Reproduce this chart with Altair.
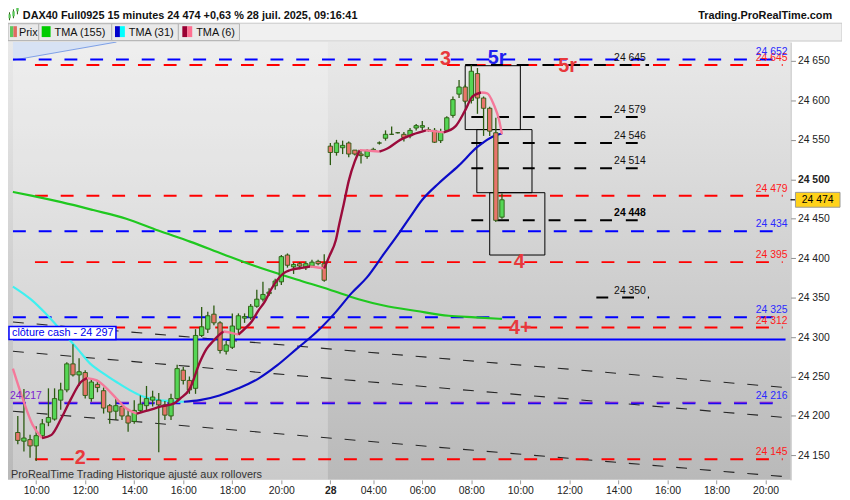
import altair as alt
import pandas as pd

FONT = "Liberation Sans"
W, H = 790, 442
X_MIN, X_MAX = -3.79, 122.27
Y_MIN, Y_MAX = 24119.0, 24674.0

# ---------------- candles (15-min bars; 0 = Fri 10:00, 48 = Mon 02:15) ----------------
bar_index = list(range(-3, 77))
opens = [24179, 24168, 24170, 24162, 24175, 24192, 24196, 24220, 24233, 24266,
         24252, 24255, 24222, 24240, 24232, 24213, 24206, 24212, 24200, 24193,
         24207, 24213, 24220, 24220, 24214, 24200, 24222, 24258, 24245, 24235,
         24302, 24310, 24329, 24318, 24282, 24287, 24310, 24324, 24325, 24339,
         24348, 24355, 24365, 24370, 24404, 24389, 24393, 24388, 24390, 24396,
         24393,
         24542, 24534, 24540, 24546, 24537, 24532, 24529, 24537, 24546, 24552,
         24557, 24559, 24557, 24555, 24565, 24566, 24563, 24562, 24549, 24562,
         24581, 24608, 24617, 24600, 24634, 24603, 24590, 24559, 24452]
highs = [24200, 24234, 24176, 24187, 24196, 24235, 24235, 24242, 24268, 24291,
         24273, 24258, 24248, 24245, 24236, 24215, 24222, 24214, 24208, 24220,
         24226, 24238, 24232, 24229, 24219, 24228, 24265, 24262, 24250, 24310,
         24338, 24332, 24340, 24320, 24295, 24330, 24330, 24330, 24342, 24360,
         24370, 24362, 24374, 24404, 24406, 24394, 24395, 24396, 24398, 24398,
         24405,
         24546, 24550, 24549, 24548, 24537, 24536, 24538, 24540, 24548, 24562,
         24567, 24560, 24560, 24565, 24570, 24574, 24566, 24565, 24564, 24580,
         24605, 24626, 24620, 24645, 24641, 24605, 24592, 24578, 24482]
lows = [24164, 24155, 24147, 24143, 24173, 24187, 24194, 24208, 24230, 24250,
        24238, 24222, 24218, 24230, 24203, 24190, 24195, 24195, 24180, 24190,
        24205, 24207, 24212, 24154, 24195, 24195, 24218, 24240, 24228, 24228,
        24300, 24305, 24315, 24279, 24278, 24285, 24305, 24318, 24322, 24337,
        24345, 24352, 24360, 24366, 24388, 24380, 24386, 24385, 24388, 24391,
        24370,
        24518, 24530, 24532, 24528, 24530, 24520, 24526, 24535, 24544, 24549,
        24556, 24558, 24548, 24552, 24562, 24562, 24560, 24546, 24546, 24560,
        24578, 24603, 24596, 24596, 24583, 24555, 24555, 24446, 24450]
closes = [24169, 24172, 24162, 24175, 24190, 24198, 24222, 24233, 24266, 24252,
          24256, 24226, 24243, 24236, 24210, 24205, 24213, 24200, 24191, 24207,
          24215, 24222, 24224, 24214, 24201, 24222, 24260, 24245, 24233, 24302,
          24313, 24327, 24318, 24283, 24290, 24314, 24327, 24326, 24339, 24348,
          24354, 24357, 24371, 24402, 24391, 24392, 24390, 24393, 24395, 24393,
          24372,
          24534, 24546, 24543, 24532, 24532, 24530, 24536, 24538, 24546, 24557,
          24557, 24559, 24553, 24562, 24568, 24568, 24563, 24547, 24560, 24578,
          24601, 24617, 24599, 24637, 24603, 24590, 24561, 24448, 24474]

# ---------------- moving averages ----------------
tma155_i = [-3.8, -0.6, 4.1, 9.3, 14.7, 19.9, 25.1, 30.5, 35.7, 42.5, 47.9, 52.6, 56.7, 62.1, 67.3, 71.6, 76.0]
tma155_p = [24484, 24479, 24471, 24461, 24450, 24435, 24421, 24405, 24390, 24373, 24360, 24348, 24340, 24333, 24327, 24325, 24323]

tma31_i = [-3.8, -0.9, 1.4, 4.1, 6.75, 8.85, 10.95, 13.1, 15.2, 17.3, 19.9, 22.5, 24.1, 26.7, 29.9, 33.0,
           36.2, 39.3, 42.5, 45.7, 48.8, 51.5, 53.9, 56.7, 59.4, 61.0, 63.0, 65.7, 68.9, 72.0, 74.7, 76.0]
tma31_p = [24364, 24348, 24331, 24308, 24285, 24266, 24254, 24243, 24233, 24225, 24220, 24218.5, 24218, 24220, 24226, 24235,
           24247, 24264, 24285, 24306, 24331, 24356, 24375, 24405, 24434, 24452, 24474, 24495, 24517, 24541, 24555, 24558]

tma6_i = [-3.8, -2.2, -0.6, 0.95, 2.5, 4.1, 5.7, 7.3, 8.3, 9.9, 11.5, 13.1, 14.6, 16.4, 18.3, 20.4, 22.5, 23.5,
          25.1, 26.7, 27.8, 28.9, 29.9, 30.6, 32.0, 33.0, 34.1, 35.2, 36.2, 37.3, 38.3, 39.4, 40.4, 41.5, 43.6,
          44.7, 45.7, 47.0, 47.8, 48.9, 49.5, 50.2, 51.0, 52.0, 52.8, 54.1, 56.0, 57.3, 59.4, 61.5, 63.6, 64.9,
          66.5, 68.4, 69.9, 71.2, 72.6, 73.6, 74.7, 75.5, 76.0]
tma6_p = [24260, 24222, 24189, 24172, 24176, 24197, 24222, 24243, 24248, 24245, 24235, 24222, 24210, 24203, 24207,
          24212, 24216, 24222, 24235, 24268, 24285, 24295, 24303, 24307, 24305, 24303, 24311, 24320, 24333, 24345,
          24360, 24373, 24381, 24385, 24388, 24389.5, 24388.5, 24387, 24402, 24423, 24445, 24469, 24498, 24523,
          24537, 24536.5, 24535, 24539, 24550, 24557, 24562, 24561, 24559.5, 24567, 24586, 24605, 24610, 24609,
          24594, 24576, 24557]

# ---------------- levels ----------------
red_levels = [24645, 24479, 24395, 24312, 24145]
blue_levels = [24652, 24434, 24325, 24216]
purple_level = 24217
cash_close = 24297
RED_FROM = -0.2
LEVEL_TO = 121.8

fib_levels = [24645, 24579, 24546, 24514, 24448, 24350]
fib_from = [70, 71, 71, 71, 71, 91.4]
FIB_TO = 100
FIB_LABEL_AT = 94.3

box_left = [70, 71.9, 74]
box_right = [79, 80.9, 83]
box_top = [24644, 24563, 24483]
box_bottom = [24563, 24483, 24404]

reg_start = [24319, 24282, 24206]
reg_end = [24236, 24198, 24123]

chan_i = [-3.79, 13.1]
chan_p = [24651, 24674]

big_text = ["2", "3", "4", "4+", "5r", "5r"]
big_i = [7.2, 66.8, 78.8, 79.0, 86.7, 75.2]
big_p = [24147, 24652, 24395, 24312, 24644, 24654]
big_col = ["#e8383c", "#e8383c", "#e8383c", "#e8383c", "#e8383c", "#2020ee"]

last_price = 24474
friday_end = 47.6

x_ticks = [0, 8, 16, 24, 32, 40, 48, 55, 63, 71, 79, 87, 95, 103, 111, 119]
x_tick_labels = ["10:00", "12:00", "14:00", "16:00", "18:00", "20:00", "28", "04:00", "06:00",
                 "08:00", "10:00", "12:00", "14:00", "16:00", "18:00", "20:00"]
y_ticks = [24150, 24200, 24250, 24300, 24350, 24400, 24450, 24500, 24550, 24600, 24650]

RED = "#ff0000"
BLUE = "#0000ff"
WICK = "#2b5a10"
UPC = "#55d655"
DNC = "#e8756b"


def fmt(v):
    return f"{int(round(v)):,}".replace(",", " ")


# ---------------- scales / axes ----------------
xs = alt.Scale(domain=[X_MIN, X_MAX], nice=False, zero=False)
ys = alt.Scale(domain=[Y_MIN, Y_MAX], nice=False, zero=False)
lab_js = "[" + ",".join(f"'{s}'" for s in x_tick_labels) + "]"
val_js = "[" + ",".join(str(v) for v in x_ticks) + "]"
x_axis = alt.Axis(values=x_ticks, labelExpr=f"{lab_js}[indexof({val_js}, datum.value)]",
                  title=None, grid=False, domain=False, tickSize=4, tickColor="#9a9a9a",
                  labelFont=FONT, labelFontSize=10.5, labelColor="#222222", labelPadding=2,
                  labelFlush=False, labelOverlap=False,
                  labelFontWeight={"condition": {"test": "datum.value == 48", "value": "bold"}, "value": "normal"})
y_axis = alt.Axis(orient="right", values=y_ticks, labelExpr="replace(format(datum.value, ','), ',', ' ')",
                  title=None, grid=False, domain=True, domainColor="#a8a8a8", tickColor="#909090",
                  tickSize=5, labelPadding=2, labelFont=FONT, labelFontSize=10.5, labelColor="#222222",
                  labelFlush=False, labelOverlap=False,
                  labelFontWeight={"condition": {"test": "datum.value == 24500", "value": "bold"}, "value": "normal"})


def X(f):
    return alt.X(f, type="quantitative", scale=xs, axis=x_axis)


def Y(f):
    return alt.Y(f, type="quantitative", scale=ys, axis=y_axis)


one = pd.DataFrame({"k": [0]})


def px_rect(x, x2, y, y2, **kw):
    return alt.Chart(one).mark_rect(**kw).encode(x=alt.value(x), x2=alt.value(x2), y=alt.value(y), y2=alt.value(y2))


def px_text(txt, x, y, size=11, weight="normal", color="#111111", align="left"):
    return alt.Chart(one).mark_text(text=txt, font=FONT, fontSize=size, fontWeight=weight, color=color,
                                    align=align, baseline="alphabetic").encode(x=alt.value(x), y=alt.value(y))


def px_rule(x, y, y2, color, sw):
    return alt.Chart(one).mark_rule(color=color, strokeWidth=sw).encode(x=alt.value(x), y=alt.value(y), y2=alt.value(y2))


layers = []

# background
grad = {"gradient": "linear", "x1": 0, "x2": 0, "y1": 0, "y2": 1,
        "stops": [{"offset": 0, "color": "#e9e9e9"}, {"offset": 1, "color": "#b9b9b9"}]}
layers.append(px_rect(0, W, 0, H, fill=grad))
fri = pd.DataFrame({"a": [X_MIN], "b": [friday_end]})
layers.append(alt.Chart(fri).mark_rect(fill="white", opacity=0.25).encode(
    x=X("a"), x2=alt.X2("b"), y=alt.value(0), y2=alt.value(H)))

# upper channel fill
chdf = pd.DataFrame({"i": chan_i, "p": chan_p, "top": [Y_MAX, Y_MAX]})
layers.append(alt.Chart(chdf).mark_area(fill="#d7e2f4", clip=True).encode(x=X("i"), y=Y("p"), y2=alt.Y2("top")))
layers.append(alt.Chart(chdf).mark_line(color="#7c9fe6", strokeWidth=1, clip=True).encode(x=X("i"), y=Y("p")))

# regression dashed lines
rrows = []
for k, (a, b) in enumerate(zip(reg_start, reg_end)):
    rrows.append({"i": X_MIN, "p": a, "g": k})
    rrows.append({"i": X_MAX, "p": b, "g": k})
layers.append(alt.Chart(pd.DataFrame(rrows)).mark_line(color="#262626", strokeWidth=1.1, strokeDash=[11, 13], clip=True)
              .encode(x=X("i"), y=Y("p"), detail="g:N"))

# levels
lv = pd.DataFrame(
    [{"a": RED_FROM, "b": LEVEL_TO, "p": v, "col": RED} for v in red_levels] +
    [{"a": X_MIN, "b": LEVEL_TO, "p": v, "col": BLUE} for v in blue_levels])
layers.append(alt.Chart(lv).mark_rule(strokeWidth=2, strokeDash=[13, 13], clip=True).encode(
    x=X("a"), x2=alt.X2("b"), y=Y("p"), color=alt.Color("col:N", scale=None)))
pl = pd.DataFrame({"a": [X_MIN], "b": [LEVEL_TO], "p": [purple_level]})
layers.append(alt.Chart(pl).mark_rule(strokeWidth=1.4, strokeDash=[13, 13], color="#7a22d0", clip=True).encode(
    x=X("a"), x2=alt.X2("b"), y=Y("p")))
cc = pd.DataFrame({"a": [X_MIN], "b": [X_MAX], "p": [cash_close]})
layers.append(alt.Chart(cc).mark_rule(strokeWidth=2, color=BLUE, clip=True).encode(x=X("a"), x2=alt.X2("b"), y=Y("p")))

# fib-like black levels
fb = pd.DataFrame({"a": fib_from, "b": [FIB_TO] * len(fib_levels), "p": fib_levels})
layers.append(alt.Chart(fb).mark_rule(strokeWidth=2, strokeDash=[12, 14], color="#000000").encode(
    x=X("a"), x2=alt.X2("b"), y=Y("p")))

# boxes
bx = pd.DataFrame({"a": box_left, "b": box_right, "t": box_top, "u": box_bottom})
layers.append(alt.Chart(bx).mark_rect(fillOpacity=0, stroke="#000000", strokeWidth=1).encode(
    x=X("a"), x2=alt.X2("b"), y=Y("t"), y2=alt.Y2("u")))


# moving averages split into rising / falling segments
def segments(xv, pv, name, split=True):
    rows = []
    seg, prev = 0, None
    for k in range(len(xv) - 1):
        d = ("up" if pv[k + 1] >= pv[k] else "dn") if split else "all"
        if d != prev:
            seg += 1
            prev = d
            rows.append({"i": xv[k], "p": pv[k], "seg": f"{name}{seg}", "style": f"{name}_{d}"})
        rows.append({"i": xv[k + 1], "p": pv[k + 1], "seg": f"{name}{seg}", "style": f"{name}_{d}"})
    return rows


ma_scale = alt.Scale(domain=["t155_all", "t31_up", "t31_dn", "t6_up", "t6_dn"],
                     range=["#1fc81f", "#0c0cc8", "#3ff0f0", "#9b0b3b", "#f5799a"])
ma_low = pd.DataFrame(segments(tma155_i, tma155_p, "t155", split=False) + segments(tma31_i, tma31_p, "t31"))
ma_hi = pd.DataFrame(segments(tma6_i, tma6_p, "t6"))
layers.append(alt.Chart(ma_low).mark_line(interpolate="monotone", strokeWidth=2.2, clip=True).encode(
    x=X("i"), y=Y("p"), detail="seg:N", color=alt.Color("style:N", scale=ma_scale, legend=None)))

# candles
cdf = pd.DataFrame({"i": bar_index, "o": opens, "h": highs, "l": lows, "c": closes})
cdf["dir"] = ["up" if c >= o else "dn" for o, c in zip(opens, closes)]
layers.append(alt.Chart(cdf).mark_rule(color=WICK, strokeWidth=1.3).encode(x=X("i"), y=Y("l"), y2=alt.Y2("h")))
layers.append(alt.Chart(cdf).mark_bar(size=4.4, stroke=WICK, strokeWidth=0.9).encode(
    x=X("i"), y=Y("o"), y2=alt.Y2("c"),
    fill=alt.Fill("dir:N", scale=alt.Scale(domain=["up", "dn"], range=[UPC, DNC]), legend=None)))

layers.append(alt.Chart(ma_hi).mark_line(interpolate="monotone", strokeWidth=2.4, clip=True).encode(
    x=X("i"), y=Y("p"), detail="seg:N", color=alt.Color("style:N", scale=ma_scale, legend=None)))

# right-hand level labels
lab = pd.DataFrame(
    [{"p": v, "t": fmt(v), "col": "#ff1a1a"} for v in red_levels] +
    [{"p": v, "t": fmt(v), "col": "#2a2aff"} for v in blue_levels])
layers.append(alt.Chart(lab).mark_text(font=FONT, fontSize=10.5, align="right", baseline="middle", dy=-7).encode(
    x=alt.value(787), y=Y("p"), text="t:N", color=alt.Color("col:N", scale=None)))
pdl = pd.DataFrame({"p": [purple_level], "t": [fmt(purple_level)]})
layers.append(alt.Chart(pdl).mark_text(font=FONT, fontSize=10.5, align="left", baseline="middle", dy=-7,
                                       color="#7a22d0").encode(x=alt.value(2), y=Y("p"), text="t:N"))

# fib labels
fl = pd.DataFrame({"a": [FIB_LABEL_AT] * len(fib_levels), "p": fib_levels, "t": [fmt(v) for v in fib_levels],
                   "w": ["bold" if v == 24448 else "normal" for v in fib_levels]})
layers.append(alt.Chart(fl[fl.w == "normal"]).mark_text(font=FONT, fontSize=10.5, align="left", baseline="middle",
                                                         dy=-7, color="#111111").encode(x=X("a"), y=Y("p"), text="t:N"))
layers.append(alt.Chart(fl[fl.w == "bold"]).mark_text(font=FONT, fontSize=10.5, fontWeight="bold", align="left",
                                                       baseline="middle", dy=-7, color="#000000").encode(
    x=X("a"), y=Y("p"), text="t:N"))

# big wave labels
bg = pd.DataFrame({"i": big_i, "p": big_p, "t": big_text, "col": big_col})
layers.append(alt.Chart(bg).mark_text(font=FONT, fontSize=20, fontWeight="bold", align="center",
                                      baseline="middle").encode(
    x=X("i"), y=Y("p"), text="t:N", color=alt.Color("col:N", scale=None)))

# cash close label
cl = pd.DataFrame({"p": [cash_close], "t": ["clôture cash -  " + fmt(cash_close)]})
layers.append(alt.Chart(cl).mark_rect(fill="white", stroke=BLUE, strokeWidth=1.5, yOffset=-13, y2Offset=0).encode(
    x=alt.value(1), x2=alt.value(109), y=Y("p"), y2=alt.Y2("p")))
layers.append(alt.Chart(cl).mark_text(font=FONT, fontSize=11, align="left", baseline="middle", dy=-6.5,
                                      color="#0000ee").encode(x=alt.value(4), y=Y("p"), text="t:N"))

# last price tag
lp = pd.DataFrame({"p": [last_price], "t": [fmt(last_price)]})
layers.append(alt.Chart(lp).mark_rule(color="#000000", strokeWidth=1.2).encode(
    x=alt.value(790), x2=alt.value(795), y=Y("p")))
layers.append(alt.Chart(lp).mark_rect(fill="#ffd21a", stroke="#9a9a9a", strokeWidth=1, yOffset=-7.5, y2Offset=7.5).encode(
    x=alt.value(795), x2=alt.value(840), y=Y("p"), y2=alt.Y2("p")))
layers.append(alt.Chart(lp).mark_text(font=FONT, fontSize=10.5, align="center", baseline="middle", color="#000000").encode(
    x=alt.value(817.5), y=Y("p"), text="t:N"))

# footer note
layers.append(px_text("ProRealTime Trading  Historique ajusté aux rollovers", 3, 440.5, size=11, color="#333333"))

# header
layers.append(px_rect(0, 842, -19, -1, fill="#f0f0f0", stroke="#c8c8c8", strokeWidth=1))
for (a, b) in [(0, 31), (31, 104.7), (104.7, 172), (172, 233.7)]:
    layers.append(px_rect(a, b, -18.5, -1.5, fill="#e9e9e9", stroke="#b4b4b4", strokeWidth=1))
layers.append(px_rect(2, 5.5, -16, -5, fill="#5cc85c"))
layers.append(px_rect(5.5, 9, -16, -5, fill="#e06a62"))
layers.append(px_text("Prix", 11, -6.5, size=11))
layers.append(px_rect(34, 43, -16, -5, fill="#00cc00"))
layers.append(px_text("TMA (155)", 47, -6.5, size=11))
layers.append(px_rect(108, 113, -16, -5, fill="#0000cc"))
layers.append(px_rect(113, 118, -16, -5, fill="#00ffff"))
layers.append(px_text("TMA (31)", 122, -6.5, size=11))
layers.append(px_rect(176, 181, -16, -5, fill="#990033"))
layers.append(px_rect(181, 186, -16, -5, fill="#ff6f91"))
layers.append(px_text("TMA (6)", 190, -6.5, size=11))

# title icon
layers.append(px_rule(1.5, -30, -22, WICK, 1))
layers.append(px_rect(0.5, 2.8, -28, -24, fill="#5cc85c"))
layers.append(px_rule(5.5, -33, -24, WICK, 1))
layers.append(px_rect(4.4, 6.8, -31, -26, fill="#5cc85c"))
layers.append(px_rule(9.5, -37, -28, WICK, 1))
layers.append(px_rect(8.4, 10.8, -35, -31, fill="#5cc85c"))
layers.append(px_text("DAX40 Full0925 15 minutes 24 474 +0,63 % 28 juil. 2025, 09:16:41", 15, -23.5,
                      size=11, weight="bold", color="#111111"))
layers.append(px_text("Trading.ProRealTime.com", 832, -23.5, size=11, weight="bold", color="#111111", align="right"))

chart = alt.layer(*layers).properties(
    width=W, height=H, autosize="none",
    padding={"left": 0, "top": 32, "right": 52, "bottom": 18},
).configure_view(stroke=None)

chart.save("out.html", embed_options={"renderer": "svg", "actions": False})
